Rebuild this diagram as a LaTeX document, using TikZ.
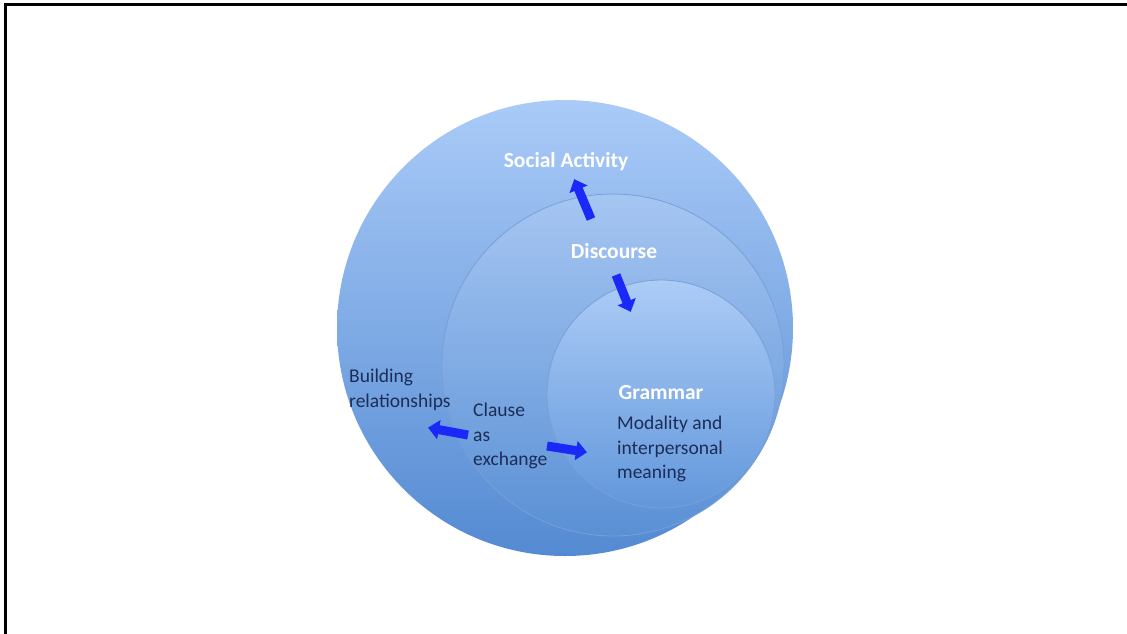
\documentclass[tikz,border=0pt]{standalone}
\usepackage{fontspec}
\setmainfont{Carlito}
\usetikzlibrary{arrows.meta,shadings}
\definecolor{labeldark}{RGB}{28,45,88}
\definecolor{arrowblue}{RGB}{26,40,248}
\definecolor{ringedge}{RGB}{120,160,215}
\tikzset{
  ring/.style={draw=ringedge, line width=0.8pt},
  whitelabel/.style={text=white, font=\fontsize{21.5}{26}\selectfont\bfseries, inner sep=0pt},
  darklabel/.style={text=labeldark, font=\fontsize{19.5}{24.5}\selectfont, align=left, inner sep=0pt, anchor=north west},
  blockarrow/.style={draw=arrowblue, line width=9pt, -{Triangle[width=19pt,length=11pt]}, shorten >=-2pt}
}
\begin{document}
\begin{tikzpicture}[x=1pt,y=-1pt]
\useasboundingbox (0,0) rectangle (1127,633);
\fill[white] (0,0) rectangle (1127,633);
% frame (open at the right and bottom)
\coordinate (fb) at (5,640);
\coordinate (fc) at (5,4);
\coordinate (fr) at (1135,4);
\draw[line width=3pt, line cap=butt] (fb) -- (fc) -- (fr);

% nested circles
\shade[top color={rgb,255:red,170;green,203;blue,248}, bottom color={rgb,255:red,84;green,138;blue,210}]
  (565,328) circle[radius=228];
\shade[ring, top color={rgb,255:red,166;green,198;blue,242}, bottom color={rgb,255:red,90;green,144;blue,213}]
  (613,365) circle[radius=171];
\shade[ring, top color={rgb,255:red,172;green,204;blue,246}, bottom color={rgb,255:red,98;green,151;blue,219}]
  (661,394) circle[radius=114];

% labels
\node[whitelabel] (social) at (566,162) {Social Activity};
\node[whitelabel] (discourse) at (614,251) {Discourse};
\node[whitelabel] (grammar) at (661,393) {Grammar};
\node[darklabel] (modality) at (617,416) {Modality and\\interpersonal\\meaning};
\node[darklabel] (building) at (349,369) {Building\\relationships};
\node[darklabel] (clause) at (473,403) {Clause\\as\\exchange};

% arrows
\coordinate (a1s) at (591,219);
\coordinate (a1e) at (575,181);
\coordinate (a2s) at (616,275);
\coordinate (a2e) at (630,310);
\coordinate (a3s) at (468,435);
\coordinate (a3e) at (430,428);
\coordinate (a4s) at (547,446);
\coordinate (a4e) at (585,452);
\draw[blockarrow] (a1s) -- (a1e);
\draw[blockarrow] (a2s) -- (a2e);
\draw[blockarrow] (a3s) -- (a3e);
\draw[blockarrow] (a4s) -- (a4e);
\end{tikzpicture}
\end{document}
